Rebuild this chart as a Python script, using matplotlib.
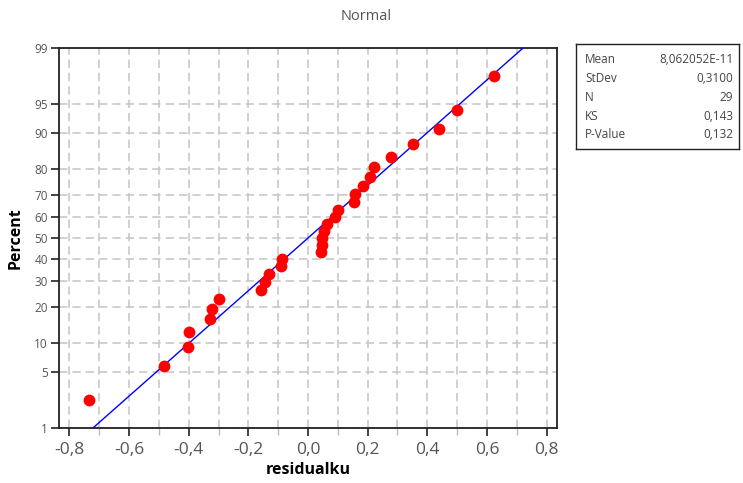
import matplotlib
matplotlib.use("Agg")
from matplotlib import pyplot as plt
from matplotlib.ticker import MultipleLocator, FuncFormatter
from statistics import NormalDist
import numpy as np

plt.rcParams['font.family'] = ['Open Sans', 'DejaVu Sans']

# residuals, sorted
residualku = [-0.736, -0.484, -0.402, -0.398, -0.330, -0.321, -0.299,
              -0.156, -0.144, -0.132, -0.092, -0.087,
              0.046, 0.043, 0.046, 0.053, 0.065, 0.089, 0.099,
              0.153, 0.158, 0.186, 0.207, 0.222, 0.280, 0.353,
              0.440, 0.499, 0.625]

# statistik
mean = 8.062052e-11
stdev = 0.3100
n = 29
ks = 0.143
p_value = 0.132

stat_names = ['Mean', 'StDev', 'N', 'KS', 'P-Value']
stat_texts = ['8,062052E-11', '0,3100', '29', '0,143', '0,132']

percent_ticks = [1, 5, 10, 20, 30, 40, 50, 60, 70, 80, 90, 95, 99]

nd = NormalDist()

# median rank posisi
x = np.sort(np.array(residualku))
rank = np.arange(1, n + 1)
prob = (rank - 0.3) / (n + 0.4)
z = np.array([nd.inv_cdf(p) for p in prob])

zlo = nd.inv_cdf(0.01)
zhi = nd.inv_cdf(0.99)

fig = plt.figure(figsize=(7.43, 4.83), dpi=100)
ax = fig.add_axes([59 / 743, 55 / 483, 498 / 743, 380 / 483])

# garis fit normal
zline = np.linspace(zlo - 0.1, zhi + 0.1, 50)
ax.plot(mean + stdev * zline, zline, color='#0000ff', lw=1.0, zorder=3)

ax.plot(x, z, 'o', color='#ff0000', markersize=8.5, markeredgewidth=0, zorder=4)

ax.set_xlim(-0.835, 0.835)
ax.set_ylim(zlo, zhi)

ax.xaxis.set_major_locator(MultipleLocator(0.2))
ax.xaxis.set_minor_locator(MultipleLocator(0.1))
ax.xaxis.set_major_formatter(FuncFormatter(lambda v, pos: ('%.1f' % v).replace('.', ',').replace('-0,0', '0,0')))

ax.set_yticks([nd.inv_cdf(p / 100) for p in percent_ticks])
ax.set_yticklabels([str(p) for p in percent_ticks])

ax.grid(True, which='both', axis='x', color='#c8c8c8', linestyle=(0, (5, 3)), lw=1.2)
ax.grid(True, which='major', axis='y', color='#c8c8c8', linestyle=(0, (5, 3)), lw=1.2)
ax.set_axisbelow(True)

ax.tick_params(axis='x', which='major', length=6, width=1.2, labelsize=12.5,
               colors='#222222', labelcolor='#555555', pad=4)
ax.tick_params(axis='x', which='minor', length=5, width=1.0, colors='#bbbbbb')
ax.tick_params(axis='y', which='major', length=6, width=1.2, labelsize=8.5,
               colors='#222222', labelcolor='#555555', pad=2)

for s in ax.spines.values():
    s.set_linewidth(1.3)
    s.set_color('#222222')

ax.set_xlabel('residualku', fontsize=11.5, fontweight='bold', labelpad=3)
ax.set_ylabel('Percent', fontsize=11.5, fontweight='bold', labelpad=8)
fig.text(366 / 743, 1 - 16 / 483, 'Normal', ha='center', va='center',
         fontsize=10.5, color='#555555')

# kotak statistik
box = fig.add_axes([576 / 743, 1 - 149 / 483, 163 / 743, 105 / 483])
box.set_xticks([])
box.set_yticks([])
for s in box.spines.values():
    s.set_linewidth(1.0)
    s.set_color('#222222')
for i in range(len(stat_names)):
    yy = 1 - (i + 0.85) / 5.6
    box.text(0.055, yy, stat_names[i], fontsize=8.5, color='#444444',
             va='center', ha='left', transform=box.transAxes)
    box.text(0.965, yy, stat_texts[i], fontsize=8.5, color='#444444',
             va='center', ha='right', transform=box.transAxes)

plt.savefig('out.png', dpi=100)
